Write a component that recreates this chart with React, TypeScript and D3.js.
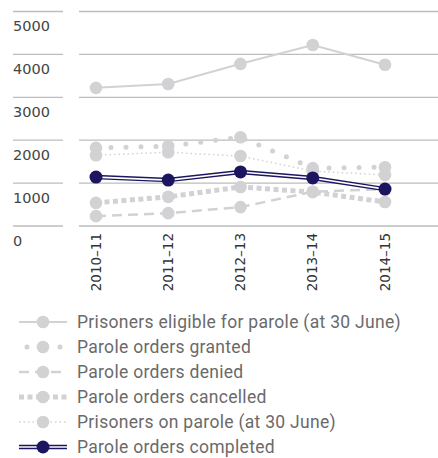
import React from "react";
import * as d3 from "d3";

const categories = ["2010–11", "2011–12", "2012–13", "2013–14", "2014–15"];
const yTicks = [0, 1000, 2000, 3000, 4000, 5000];

const eligible = [3220, 3310, 3780, 4220, 3760];
const granted = [1820, 1860, 2070, 1350, 1370];
const denied = [230, 300, 440, 800, 860];
const cancelled = [540, 680, 910, 790, 560];
const onParole = [1650, 1720, 1630, 1280, 1190];
const completed = [1140, 1070, 1260, 1120, 860];

const seriesNames = [
  "Prisoners eligible for parole (at 30 June)",
  "Parole orders granted",
  "Parole orders denied",
  "Parole orders cancelled",
  "Prisoners on parole (at 30 June)",
  "Parole orders completed",
];

const GRAY = "#d2d2d4";
const NAVY = "#1c1660";

type Style = { width: number; dash?: string; cap?: "round" | "butt" };
const styles: Style[] = [
  { width: 2 },
  { width: 5, dash: "0 15", cap: "round" },
  { width: 2.5, dash: "10 6" },
  { width: 5, dash: "5 3.5" },
  { width: 1.5, dash: "1.5 3" },
  { width: 4.5 },
];

export default function App() {
  const W = 438;
  const H = 458;
  const x = d3.scalePoint<string>().domain(categories).range([96, 385]);
  const y = d3.scaleLinear().domain([0, 5000]).range([226, 11.5]);
  const line = d3
    .line<number>()
    .x((_, i) => x(categories[i]) as number)
    .y((d) => y(d));

  const all = [eligible, granted, denied, cancelled, onParole, completed];
  const font = "DejaVu Sans, sans-serif";

  return (
    <svg
      width={W}
      height={H}
      style={{ position: "absolute", left: 0, top: 0, background: "#fff" }}
    >
      {yTicks.map((t) => (
        <g key={t}>
          <line x1={13} x2={63} y1={y(t)} y2={y(t)} stroke="#bdbdbd" strokeWidth={1.3} />
          <line x1={79} x2={438} y1={y(t)} y2={y(t)} stroke="#bdbdbd" strokeWidth={1.3} />
          <text x={13} y={y(t) + 19.5} fontSize={14.5} fill="#444" fontFamily={font}>
            {t}
          </text>
        </g>
      ))}
      {categories.map((c) => (
        <text
          key={c}
          transform={`translate(${(x(c) as number) + 4.5},233) rotate(-90)`}
          textAnchor="end"
          fontSize={13.5}
          fill="#333"
          fontFamily={font}
        >
          {c}
        </text>
      ))}
      {all.map((vals, si) => {
        const st = styles[si];
        const isNavy = si === 5;
        return (
          <g key={si}>
            <path
              d={line(vals) || ""}
              fill="none"
              stroke={isNavy ? NAVY : GRAY}
              strokeWidth={st.width}
              strokeDasharray={st.dash}
              strokeLinecap={st.cap || "butt"}
            />
            {isNavy && (
              <path d={line(vals) || ""} fill="none" stroke="#fff" strokeWidth={1.6} />
            )}
            {vals.map((v, i) => (
              <circle
                key={i}
                cx={x(categories[i]) as number}
                cy={y(v)}
                r={isNavy ? 6.5 : 6.3}
                fill={isNavy ? NAVY : GRAY}
              />
            ))}
          </g>
        );
      })}
      {seriesNames.map((name, si) => {
        const st = styles[si];
        const isNavy = si === 5;
        const cy = 322 + si * 25;
        return (
          <g key={name}>
            <line
              x1={19}
              x2={67}
              y1={cy}
              y2={cy}
              stroke={isNavy ? NAVY : GRAY}
              strokeWidth={st.width}
              strokeDasharray={si === 1 ? "0 16.5" : st.dash}
              strokeDashoffset={si === 1 ? -8 : 0}
              strokeLinecap={st.cap || "butt"}
            />
            {isNavy && <line x1={19} x2={67} y1={cy} y2={cy} stroke="#fff" strokeWidth={1.6} />}
            <circle cx={43} cy={cy} r={isNavy ? 6.5 : 6.3} fill={isNavy ? NAVY : GRAY} />
            <text
              x={77}
              y={cy + 6.2}
              fontSize={17.5}
              letterSpacing={0.3}
              fill="#6a6a6a"
              fontFamily="Roboto, sans-serif"
            >
              {name}
            </text>
          </g>
        );
      })}
    </svg>
  );
}
